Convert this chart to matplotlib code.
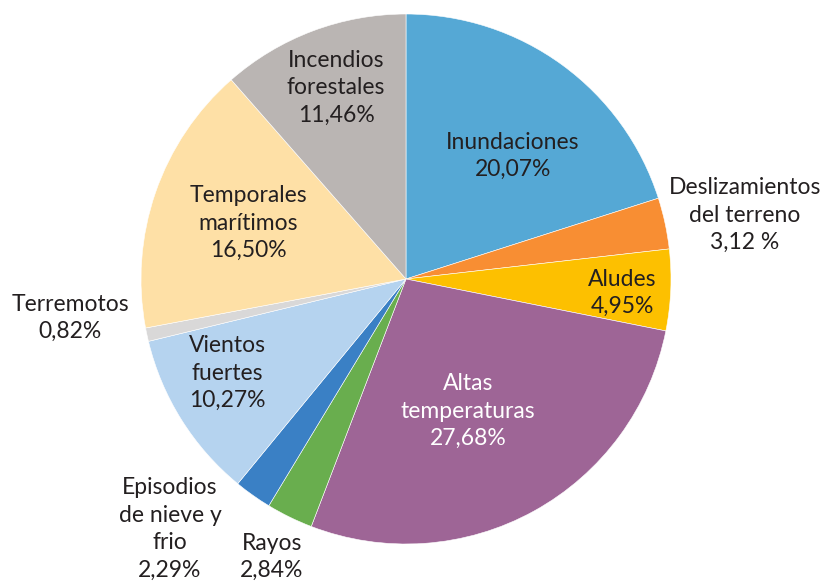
import matplotlib
matplotlib.use("Agg")
import matplotlib.pyplot as plt

plt.rcParams["font.family"] = ["Lato", "DejaVu Sans"]

categories = [
    "Inundaciones", "Deslizamientos\ndel terreno", "Aludes", "Altas\ntemperaturas",
    "Rayos", "Episodios\nde nieve y\nfrio", "Vientos\nfuertes", "Terremotos",
    "Temporales\nmarítimos", "Incendios\nforestales",
]
shares = [20.07, 3.12, 4.95, 27.68, 2.84, 2.29, 10.27, 0.82, 16.50, 11.46]
value_text = ["20,07%", "3,12 %", "4,95%", "27,68%", "2,84%", "2,29%",
              "10,27%", "0,82%", "16,50%", "11,46%"]
colors = ["#55a8d5", "#f88e33", "#fdc000", "#9e6596", "#69ae4e", "#3a80c5",
          "#b5d3ef", "#d9d8d8", "#fee0a6", "#bab5b3"]
text_colors = ["#231f20"] * 10
text_colors[3] = "white"

# label anchor points, pixel coordinates (x from left, y from top)
label_xy = [(513, 156), (745, 215), (622, 293), (468, 411), (272, 557),
            (170, 529), (227, 373), (70, 318), (248, 223), (336, 88)]

W, H = 827, 581
fig = plt.figure(figsize=(W / 100, H / 100), dpi=100)
ax = fig.add_axes([0, 0, 1, 1])

ax.pie(shares, colors=colors, startangle=90, counterclock=False,
       center=(406, H - 279), radius=265,
       wedgeprops=dict(linewidth=0.4, edgecolor="white"))

ax.set_xlim(0, W)
ax.set_ylim(0, H)
ax.set_aspect("equal")
ax.axis("off")

for name, val, (x, y), tc in zip(categories, value_text, label_xy, text_colors):
    ax.text(x, H - y, f"{name}\n{val}", ha="center", va="center",
            fontsize=16.5, color=tc, linespacing=1.38)

fig.savefig("out.png", dpi=100)
